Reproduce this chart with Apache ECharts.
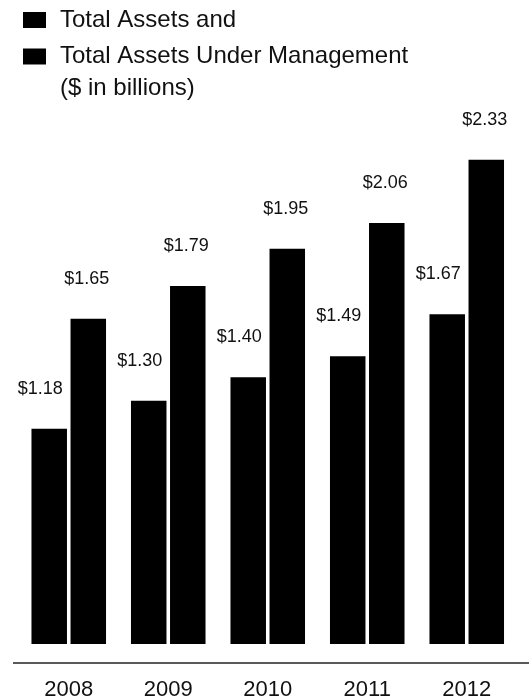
<!DOCTYPE html>
<html>
<head>
<meta charset="utf-8">
<title>Total Assets and Total Assets Under Management</title>
<script src="https://cdn.jsdelivr.net/npm/echarts@6/dist/echarts.min.js"></script>
<style>
  html, body { margin: 0; padding: 0; background: #fff; }
  #chart { width: 529px; height: 699px; }
</style>
</head>
<body>
<div id="chart"></div>
<script>
// Fiscal years on the category axis
const years = ['2008', '2009', '2010', '2011', '2012'];
// Series names shown in the legend
const seriesNames = ['Total Assets and', 'Total Assets Under Management'];
// Values, $ in billions
const totalAssets = [1.18, 1.30, 1.40, 1.49, 1.67];
const assetsUnderManagement = [1.65, 1.79, 1.95, 2.06, 2.33];

const FONT = '"Liberation Sans", Arial, Helvetica, sans-serif';
const INK = '#111';

const chart = echarts.init(document.getElementById('chart'), null, { renderer: 'canvas' });

function money(p) {
  return '$' + p.value.toFixed(2);
}

chart.setOption({
  animation: false,
  backgroundColor: '#fff',
  textStyle: { fontFamily: FONT },
  title: {
    text: '($ in billions)',
    left: 60,
    top: 76,
    padding: 0,
    textStyle: { fontFamily: FONT, fontSize: 24, fontWeight: 'normal', color: INK }
  },
  legend: {
    orient: 'vertical',
    left: 23,
    top: 8,
    padding: 0,
    itemGap: 12.5,
    itemWidth: 23,
    itemHeight: 16,
    icon: 'rect',
    selectedMode: false,
    data: seriesNames,
    textStyle: { fontFamily: FONT, fontSize: 24, color: INK, padding: [0, 0, 0, 9] }
  },
  grid: {
    left: 19, right: 12.5, top: 120, bottom: 55,
    containLabel: false,
    outerBoundsMode: 'none'
  },
  xAxis: {
    type: 'category',
    data: years,
    offset: 19,
    axisLine: { show: false },
    axisTick: { show: false },
    axisLabel: { fontFamily: FONT, fontSize: 22, color: INK, margin: 16 },
    splitLine: { show: false }
  },
  yAxis: {
    type: 'value',
    min: 0.26,
    max: 2.5,
    show: false,
    splitLine: { show: false }
  },
  // horizontal rule under the bars
  graphic: [{
    type: 'line',
    shape: { x1: 13, y1: 663, x2: 529, y2: 663 },
    style: { stroke: '#222', lineWidth: 1.5 },
    silent: true
  }],
  series: [
    {
      name: seriesNames[0],
      type: 'bar',
      data: totalAssets,
      barWidth: 35.5,
      barGap: '10%',
      itemStyle: { color: '#000' },
      label: {
        show: true,
        position: 'top',
        distance: 31,
        offset: [-9, 0],
        formatter: money,
        fontFamily: FONT,
        fontSize: 18,
        color: INK
      }
    },
    {
      name: seriesNames[1],
      type: 'bar',
      data: assetsUnderManagement,
      barWidth: 35.5,
      barGap: '10%',
      itemStyle: { color: '#000' },
      label: {
        show: true,
        position: 'top',
        distance: 31,
        offset: [-1.5, 0],
        formatter: money,
        fontFamily: FONT,
        fontSize: 18,
        color: INK
      }
    }
  ]
});
</script>
</body>
</html>
